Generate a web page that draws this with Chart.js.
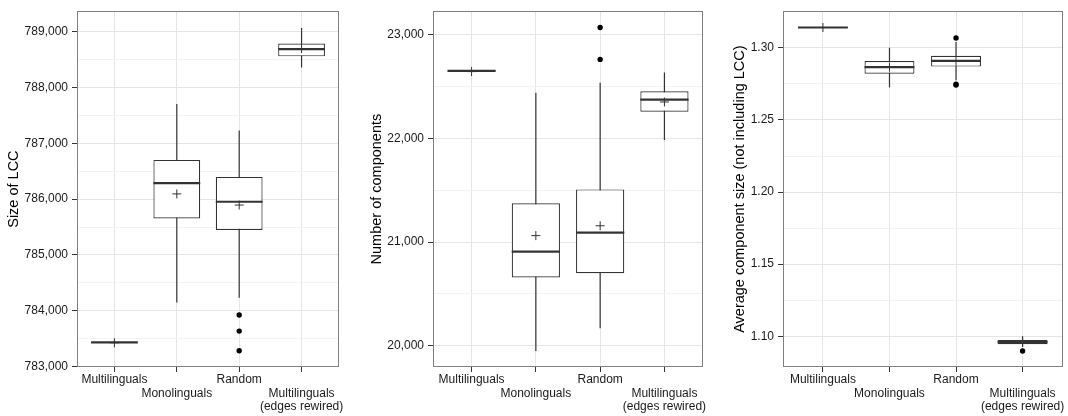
<!DOCTYPE html>
<html lang="en">
<head>
<meta charset="UTF-8">
<title>Component statistics</title>
<style>
    body {
        margin: 0;
        background: #fff;
    }

    .panel {
        position: absolute;
        top: 0;
        width: 356px;
        height: 416px;
    }
</style>
</head>
<body>
<div class="panel" style="left:0px"><canvas id="lccChart"></canvas></div>
<div class="panel" style="left:356px"><canvas id="compChart"></canvas></div>
<div class="panel" style="left:712px"><canvas id="sizeChart"></canvas></div>

<script src="https://cdn.jsdelivr.net/npm/chart.js@4.4.3/dist/chart.umd.min.js"></script>
<script>
    // categories and staggered tick labels (second and fourth sit one line lower)
    const categories = ['Multilinguals', 'Monolinguals', 'Random', 'Multilinguals (edges rewired)'];
    const xTickLabels = [['Multilinguals'], ['', 'Monolinguals'], ['Random'], ['', 'Multilinguals', '(edges rewired)']];

    // Size of LCC
    const lccMin = [783430, 784145, 784233, 788360];
    const lccQ1 = [783430, 785654, 785448, 788560];
    const lccMedian = [783430, 786288, 785953, 788689];
    const lccQ3 = [783430, 786704, 786399, 788789];
    const lccMax = [783430, 787708, 787233, 789070];
    const lccMean = [783425, 786094, 785894, 788700];
    const lccOutliers = [[], [], [783922, 783634, 783282], []];
    const lccTicks = [783000, 784000, 785000, 786000, 787000, 788000, 789000];
    const lccMinorTicks = [783500, 784500, 785500, 786500, 787500, 788500];

    // Number of components
    const compMin = [22652, 19949, 20168, 21985];
    const compQ1 = [22652, 20658, 20699, 22257];
    const compMedian = [22652, 20907, 21091, 22374];
    const compQ3 = [22652, 21375, 21508, 22456];
    const compMax = [22652, 22440, 22538, 22636];
    const compMean = [22645, 21062, 21157, 22352];
    const compOutliers = [[], [], [23070, 22763], []];
    const compTicks = [20000, 21000, 22000, 23000];
    const compMinorTicks = [20500, 21500, 22500];

    // Average component size (not including LCC)
    const sizeMin = [1.3141, 1.2725, 1.2775, 1.0925];
    const sizeQ1 = [1.3141, 1.2820, 1.2870, 1.0945];
    const sizeMedian = [1.3141, 1.2866, 1.2909, 1.0960];
    const sizeQ3 = [1.3141, 1.2909, 1.2945, 1.0975];
    const sizeMax = [1.3141, 1.3000, 1.3040, 1.1000];
    const sizeMean = [1.3141, 1.2866, 1.2909, 1.0960];
    const sizeOutliers = [[], [], [1.3068, 1.2748, 1.2742], [1.0898]];
    const sizeTicks = [1.10, 1.15, 1.20, 1.25, 1.30];
    const sizeMinorTicks = [1.125, 1.175, 1.225, 1.275];

    Chart.defaults.font.family = '"Liberation Sans", Arial, sans-serif';
    Chart.defaults.color = '#1a1a1a';

    const boxColor = '#333333';
    const gridMajor = '#e5e5e5';
    const gridMinor = '#f3f3f3';

    const panelBorder = {
        id: 'panelBorder',
        afterDatasetsDraw(chart) {
            const a = chart.chartArea;
            const ctx = chart.ctx;
            const l = Math.round(a.left) + 0.5, t = Math.round(a.top) + 0.5;
            const r = Math.round(a.right) - 0.5, b = Math.round(a.bottom) - 0.5;
            ctx.save();
            ctx.strokeStyle = '#808080';
            ctx.lineWidth = 1;
            ctx.strokeRect(l, t, r - l, b - t);
            ctx.restore();
        }
    };

    function halfBox(chart) {
        const s = chart.scales.x;
        return Math.abs(s.getPixelForValue(0.375) - s.getPixelForValue(0));
    }

    function makeBoxChart(id, p) {
        const isMinor = v => p.minor.some(m => Math.abs(m - v) < 1e-9);
        const pts = arr => arr.map((v, i) => ({x: i + 1, y: v}));

        const outlierPts = [];
        p.outliers.forEach((list, i) => list.forEach(v => outlierPts.push({x: i + 1, y: v})));

        return new Chart(document.getElementById(id), {
            type: 'bar',
            data: {
                datasets: [
                    {
                        label: 'whiskers',
                        data: p.min.map((v, i) => ({x: i + 1, y: [v, p.max[i]]})),
                        backgroundColor: boxColor,
                        borderWidth: 0,
                        maxBarThickness: 1.2,
                        grouped: false,
                        order: 5
                    },
                    {
                        label: 'boxes',
                        data: p.q1.map((v, i) => ({x: i + 1, y: [v, p.q3[i]]})),
                        backgroundColor: '#ffffff',
                        borderColor: boxColor,
                        borderWidth: 1.2,
                        borderSkipped: false,
                        inflateAmount: 0,
                        barPercentage: 0.75,
                        categoryPercentage: 1,
                        grouped: false,
                        order: 4
                    },
                    {
                        type: 'line',
                        label: 'median',
                        data: pts(p.median),
                        showLine: false,
                        pointStyle: 'line',
                        pointRadius: ctx => halfBox(ctx.chart),
                        pointBorderWidth: 2.2,
                        pointBorderColor: boxColor,
                        order: 3
                    },
                    {
                        type: 'line',
                        label: 'mean',
                        data: pts(p.mean),
                        showLine: false,
                        pointStyle: 'cross',
                        pointRadius: 4.5,
                        pointBorderWidth: 1,
                        pointBorderColor: boxColor,
                        order: 2
                    },
                    {
                        type: 'line',
                        label: 'outliers',
                        data: outlierPts,
                        showLine: false,
                        pointStyle: 'circle',
                        pointRadius: 2.7,
                        pointBackgroundColor: '#000000',
                        pointBorderWidth: 0,
                        order: 1
                    }
                ]
            },
            options: {
                responsive: true,
                maintainAspectRatio: false,
                animation: false,
                events: [],
                layout: { padding: { top: 5, right: p.rightPad, left: 0, bottom: 0 } },
                plugins: { legend: { display: false }, tooltip: { enabled: false } },
                scales: {
                    x: {
                        type: 'linear',
                        min: 0.4,
                        max: 4.6,
                        offset: false,
                        afterBuildTicks: s => { s.ticks = categories.map((c, i) => ({value: i + 1})); },
                        afterFit: s => { s.height = 49; },
                        grid: { offset: false, color: gridMajor, tickColor: boxColor, tickLength: 5 },
                        border: { display: false },
                        ticks: {
                            callback: v => xTickLabels[Math.round(v) - 1],
                            font: { size: 12, lineHeight: 1.1 },
                            color: '#1a1a1a',
                            padding: 1.5,
                            autoSkip: false,
                            maxRotation: 0
                        }
                    },
                    y: {
                        min: p.yMin,
                        max: p.yMax,
                        afterBuildTicks: s => { s.ticks = p.major.concat(p.minor).map(v => ({value: v})); },
                        afterFit: s => { s.width = p.axisWidth; },
                        grid: {
                            color: ctx => ctx.tick && isMinor(ctx.tick.value) ? gridMinor : gridMajor,
                            tickColor: ctx => ctx.tick && isMinor(ctx.tick.value) ? 'rgba(0,0,0,0)' : boxColor,
                            tickLength: 5
                        },
                        border: { display: false },
                        ticks: {
                            callback: v => isMinor(v) ? '' : p.format(v),
                            font: { size: 12 },
                            color: '#1a1a1a',
                            padding: 4,
                            autoSkip: false
                        },
                        title: {
                            display: true,
                            text: p.title,
                            font: { size: 14.5 },
                            color: '#000000',
                            padding: { top: p.titlePad, bottom: 0 }
                        }
                    }
                }
            },
            plugins: [panelBorder]
        });
    }

    const thousands = v => Math.round(v).toLocaleString('en-US');

    makeBoxChart('lccChart', {
        min: lccMin, q1: lccQ1, median: lccMedian, q3: lccQ3, max: lccMax, mean: lccMean, outliers: lccOutliers,
        major: lccTicks, minor: lccMinorTicks, yMin: 782990, yMax: 789370,
        title: 'Size of LCC', format: thousands,
        axisWidth: 77, rightPad: 17, titlePad: 5.3
    });

    makeBoxChart('compChart', {
        min: compMin, q1: compQ1, median: compMedian, q3: compQ3, max: compMax, mean: compMean, outliers: compOutliers,
        major: compTicks, minor: compMinorTicks, yMin: 19794, yMax: 23228,
        title: 'Number of components', format: thousands,
        axisWidth: 77, rightPad: 9, titlePad: 12
    });

    makeBoxChart('sizeChart', {
        min: sizeMin, q1: sizeQ1, median: sizeMedian, q3: sizeQ3, max: sizeMax, mean: sizeMean, outliers: sizeOutliers,
        major: sizeTicks, minor: sizeMinorTicks, yMin: 1.0787, yMax: 1.3254,
        title: 'Average component size (not including LCC)', format: v => v.toFixed(2),
        axisWidth: 71, rightPad: 4, titlePad: 19.3
    });
</script>
</body>
</html>
